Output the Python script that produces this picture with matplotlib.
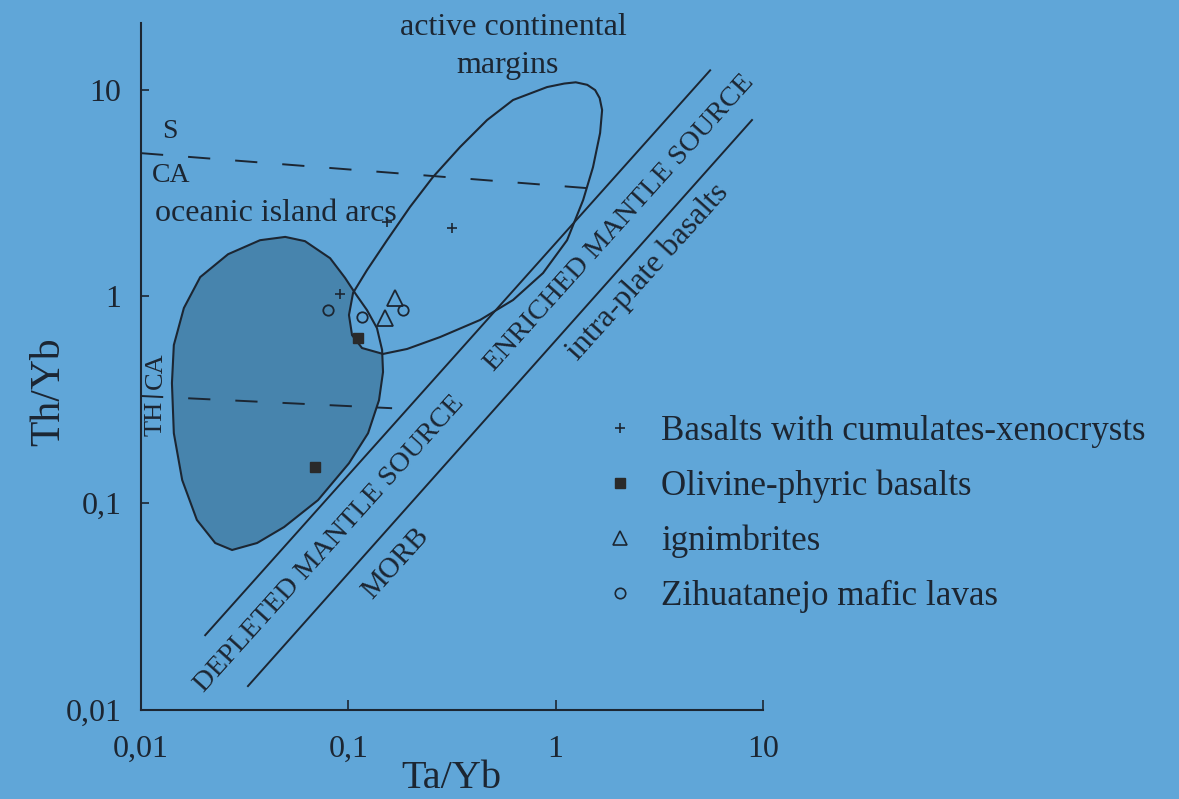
import matplotlib
matplotlib.use('Agg')
import numpy as np
import matplotlib.pyplot as plt
from matplotlib.lines import Line2D
from matplotlib.patches import Polygon
from matplotlib.ticker import NullLocator

plt.rcParams['font.family'] = ['Liberation Serif', 'DejaVu Serif']
plt.rcParams['lines.scale_dashes'] = False

BG = '#60a6d8'
INK = '#1c2632'
SHADE = '#4784ad'

# ticks
x_ticks = [0.01, 0.1, 1, 10]
x_tick_labels = ['0,01', '0,1', '1', '10']
y_ticks = [0.01, 0.1, 1, 10]
y_tick_labels = ['0,01', '0,1', '1', '10']

# oceanic island arcs field (Ta/Yb, Th/Yb)
arc_x = [0.0496, 0.0618, 0.0817, 0.0964, 0.1076, 0.123, 0.1374, 0.1455, 0.147,
         0.1406, 0.1245, 0.1007, 0.0714, 0.0490, 0.0363, 0.0275, 0.0228, 0.0186,
         0.0158, 0.0144, 0.0141, 0.0144, 0.0161, 0.0193, 0.0263, 0.0375]
arc_y = [1.94, 1.85, 1.53, 1.23, 1.04, 0.859, 0.703, 0.551, 0.431,
         0.315, 0.218, 0.156, 0.1035, 0.0767, 0.0642, 0.0594, 0.0642, 0.0830,
         0.1294, 0.218, 0.381, 0.582, 0.879, 1.24, 1.60, 1.87]

# active continental margins field
acm_x = [1.25, 1.10, 0.909, 0.623, 0.467, 0.346, 0.256, 0.1985, 0.1537, 0.123,
         0.1054, 0.1007, 0.1042, 0.1164, 0.147, 0.192, 0.277, 0.4315, 0.623,
         0.869, 1.135, 1.356, 1.514, 1.638, 1.675, 1.63, 1.55, 1.42]
acm_y = [10.85, 10.70, 10.29, 8.91, 7.13, 5.28, 3.78, 2.71, 1.87, 1.34,
         1.04, 0.813, 0.650, 0.563, 0.527, 0.557, 0.636, 0.769, 0.961,
         1.297, 1.87, 2.92, 4.22, 6.17, 7.97, 9.10, 9.95, 10.55]

# mantle array boundaries
upper_x = [0.0204, 5.56]
upper_y = [0.0230, 12.4]
lower_x = [0.0328, 8.85]
lower_y = [0.01305, 7.13]

# dashed divisions
sca_x = [0.01, 1.416]
sca_y = [4.93, 3.34]
thca_x = [0.01, 0.1626]
thca_y = [0.330, 0.288]

# samples
cum_x = [0.1537, 0.316, 0.0912]
cum_y = [2.29, 2.14, 1.027]
oliv_x = [0.1113, 0.069]
oliv_y = [0.630, 0.1496]
ign_x = [0.168, 0.150]
ign_y = [0.982, 0.786]
zih_x = [0.0798, 0.1164, 0.1837]
zih_y = [0.859, 0.795, 0.859]

legend_labels = ['Basalts with cumulates-xenocrysts', 'Olivine-phyric basalts',
                 'ignimbrites', 'Zihuatanejo mafic lavas']


fig = plt.figure(figsize=(11.79, 7.99), dpi=100, facecolor=BG)
ax = fig.add_axes([141 / 1179, 89 / 799, 622 / 1179, 687 / 799])
ax.set_facecolor(BG)
ax.set_xscale('log')
ax.set_yscale('log')
ax.set_xlim(0.01, 10)
ax.set_ylim(0.01, 21)

arc_pts = np.column_stack([arc_x, arc_y])
acm_pts = np.column_stack([acm_x, acm_y])
ax.add_patch(Polygon(arc_pts, closed=True, fc=SHADE, ec='none', zorder=1))
ax.add_patch(Polygon(acm_pts, closed=True, fc=BG, ec='none', zorder=1.5))
ax.add_patch(Polygon(arc_pts, closed=True, fill=False, ec=INK, lw=1.5, zorder=2))
ax.add_patch(Polygon(acm_pts, closed=True, fill=False, ec=INK, lw=1.5, zorder=2))

ax.plot(upper_x, upper_y, color=INK, lw=1.4, zorder=2)
ax.plot(lower_x, lower_y, color=INK, lw=1.4, zorder=2)
ax.plot(sca_x, sca_y, color=INK, lw=1.4, ls=(0, (16, 18)), zorder=2)
ax.plot(thca_x, thca_y, color=INK, lw=1.4, ls=(0, (16, 18)), zorder=2)

ax.plot(cum_x, cum_y, ls='none', marker='+', ms=7.5, mew=1.2, color=INK, zorder=3)
ax.plot(oliv_x, oliv_y, ls='none', marker='s', ms=7.5, mfc='#2a2a2a', mec='#2a2a2a', zorder=3)
ax.plot(ign_x, ign_y, ls='none', marker='^', ms=11, mfc='none', mec=INK, mew=1.3, zorder=3)
ax.plot(zih_x, zih_y, ls='none', marker='o', ms=7.5, mfc='none', mec=INK, mew=1.3, zorder=3)

# field labels
ax.text(0.627, 18.4, 'active continental', ha='center', va='baseline', fontsize=23, color=INK, clip_on=False)
ax.text(0.589, 12.0, 'margins', ha='center', va='baseline', fontsize=23, color=INK)
ax.text(0.0138, 5.83, 'S', ha='center', va='baseline', fontsize=20, color=INK)
ax.text(0.0113, 3.57, 'CA', ha='left', va='baseline', fontsize=20, color=INK)
ax.text(0.01168, 2.315, 'oceanic island arcs', ha='left', va='baseline', fontsize=23, color=INK)
ax.text(0.01263, 0.258, 'TH', rotation=90, rotation_mode='anchor', ha='center', va='baseline',
        fontsize=19, color=INK)
ax.text(0.01263, 0.4355, 'CA', rotation=90, rotation_mode='anchor', ha='center', va='baseline',
        fontsize=19, color=INK)
ax.text(0.0807, 0.0635, 'DEPLETED MANTLE SOURCE', rotation=48, rotation_mode='anchor',
        ha='center', va='center', fontsize=20.5, color=INK)
ax.text(2.02, 2.26, 'ENRICHED MANTLE SOURCE', rotation=48, rotation_mode='anchor',
        ha='center', va='center', fontsize=20.5, color=INK)
ax.text(2.79, 1.31, 'intra-plate basalts', rotation=48, rotation_mode='anchor',
        ha='center', va='center', fontsize=23, color=INK)
ax.text(0.170, 0.0514, 'MORB', rotation=48, rotation_mode='anchor',
        ha='center', va='center', fontsize=21, color=INK)

# axes styling
for side in ['top', 'right']:
    ax.spines[side].set_visible(False)
for side in ['left', 'bottom']:
    ax.spines[side].set_linewidth(1.5)
    ax.spines[side].set_color(INK)
ax.set_xticks(x_ticks, x_tick_labels)
ax.set_yticks(y_ticks, y_tick_labels)
ax.xaxis.set_minor_locator(NullLocator())
ax.yaxis.set_minor_locator(NullLocator())
ax.tick_params(axis='x', direction='in', length=7, width=1.2, pad=18, labelsize=23,
               color=INK, labelcolor=INK)
ax.tick_params(axis='y', direction='in', length=5.5, width=1.2, pad=14, labelsize=23,
               color=INK, labelcolor=INK)

fig.text(451 / 1179, 1 - 788 / 799, 'Ta/Yb', ha='center', va='baseline', fontsize=29, color=INK)
fig.text(59 / 1179, 1 - 392 / 799, 'Th/Yb', rotation=90, rotation_mode='anchor',
         ha='center', va='baseline', fontsize=30, color=INK)

handles = [
    Line2D([], [], ls='none', marker='+', ms=7.5, mew=1.2, color=INK),
    Line2D([], [], ls='none', marker='s', ms=7.5, mfc='#2a2a2a', mec='#2a2a2a'),
    Line2D([], [], ls='none', marker='^', ms=10.5, mfc='none', mec=INK, mew=1.2),
    Line2D([], [], ls='none', marker='o', ms=7.5, mfc='none', mec=INK, mew=1.2),
]
ax.legend(handles, legend_labels, loc='center left', bbox_to_anchor=(603 / 1179, 1 - 514 / 799),
          bbox_transform=fig.transFigure, frameon=False, fontsize=25.2, labelcolor=INK,
          handlelength=0.95, handletextpad=0.72, labelspacing=0.62, borderpad=0, borderaxespad=0)

fig.savefig('out.png', dpi=100, facecolor=BG)
